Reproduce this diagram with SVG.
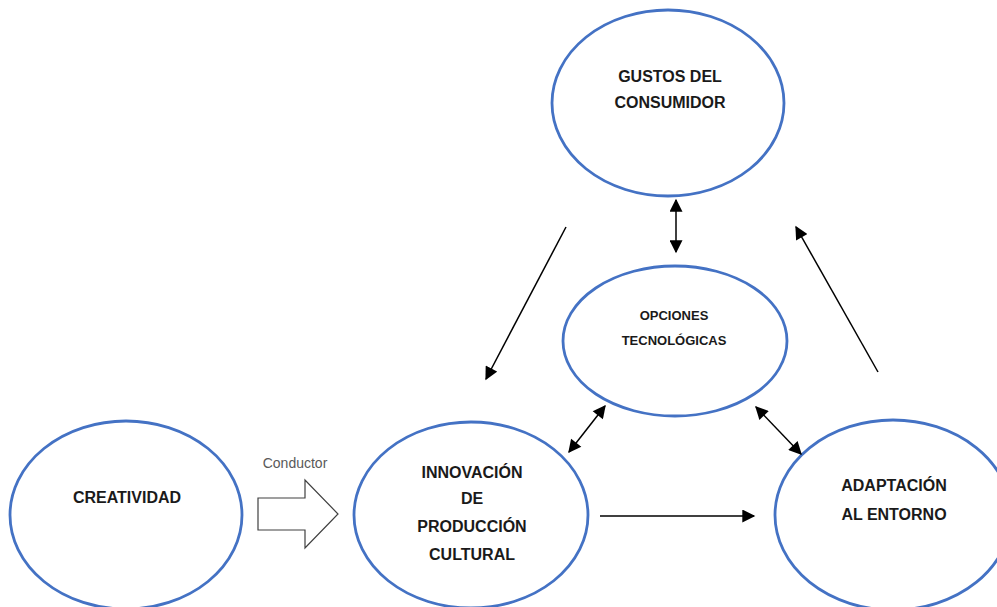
<svg xmlns="http://www.w3.org/2000/svg" width="997" height="607" viewBox="0 0 997 607">
<style>
.node{fill:#fff;stroke:#4472C4;stroke-width:2.8}
.t{font-family:"Liberation Sans",Arial,sans-serif;font-weight:bold;font-size:16px;fill:#1a1a1a;text-anchor:middle}
.ts{font-size:13px}
.c{stroke:#000;stroke-width:1.5;fill:none}
</style>
<defs>
<marker id="ah" viewBox="0 0 10 10" refX="9" refY="5" markerWidth="14" markerHeight="13" markerUnits="userSpaceOnUse" orient="auto-start-reverse">
<path d="M0,0 L10,5 L0,10 z" fill="#000"/>
</marker>
</defs>
<rect width="997" height="607" fill="#fff"/>
<g id="gustos">
<ellipse class="node" cx="668" cy="103" rx="116" ry="93"/>
<text class="t" x="670" y="82">GUSTOS DEL</text>
<text class="t" x="670" y="108">CONSUMIDOR</text>
</g>
<g id="opciones">
<ellipse class="node" cx="675" cy="341" rx="112" ry="75"/>
<text class="t ts" x="674" y="320">OPCIONES</text>
<text class="t ts" x="674" y="345">TECNOLÓGICAS</text>
</g>
<g id="creatividad">
<ellipse class="node" cx="126" cy="515" rx="116" ry="94"/>
<text class="t" x="127" y="503">CREATIVIDAD</text>
</g>
<g id="innovacion">
<ellipse class="node" cx="471" cy="515" rx="117" ry="93"/>
<text class="t" x="472" y="478">INNOVACIÓN</text>
<text class="t" x="472" y="504">DE</text>
<text class="t" x="472" y="532">PRODUCCIÓN</text>
<text class="t" x="472" y="560">CULTURAL</text>
</g>
<g id="adaptacion">
<ellipse class="node" cx="893" cy="515" rx="118" ry="95"/>
<text class="t" x="894" y="491">ADAPTACIÓN</text>
<text class="t" x="894" y="520">AL ENTORNO</text>
</g>
<g id="connectors">
<line class="c" x1="676" y1="200" x2="676" y2="252" marker-start="url(#ah)" marker-end="url(#ah)"/>
<line class="c" x1="566" y1="227" x2="486" y2="379" marker-end="url(#ah)"/>
<line class="c" x1="878" y1="372" x2="796" y2="227" marker-end="url(#ah)"/>
<line class="c" x1="605" y1="406" x2="569" y2="452" marker-start="url(#ah)" marker-end="url(#ah)"/>
<line class="c" x1="756" y1="407" x2="801" y2="454" marker-start="url(#ah)" marker-end="url(#ah)"/>
<line class="c" x1="600" y1="516" x2="754" y2="516" marker-end="url(#ah)"/>
<path d="M258,498 H305 V480 L338,514 L305,548 V530 H258 Z" fill="#fff" stroke="#404040" stroke-width="1.2"/>
<text x="295" y="468" font-family="Liberation Sans,Arial,sans-serif" font-size="14" fill="#595959" text-anchor="middle">Conductor</text>
</g>
</svg>
